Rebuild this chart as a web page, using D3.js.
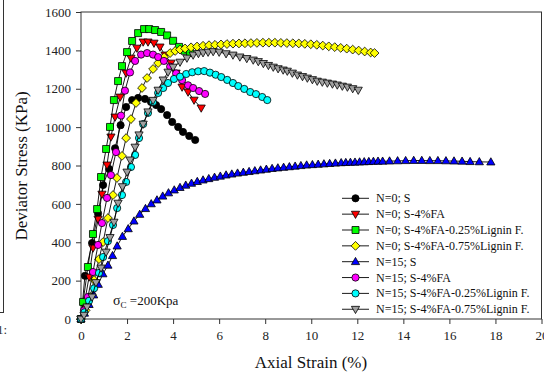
<!DOCTYPE html>
<html><head><meta charset="utf-8">
<script src="https://cdn.jsdelivr.net/npm/d3@7"></script>
<style>body{margin:0;background:#fff}svg{display:block}</style>
</head><body><svg id="c" width="544" height="377"></svg>
<script>
const xTicks=[0,2,4,6,8,10,12,14,16,18,20];
const yTicks=[0,200,400,600,800,1000,1200,1400,1600];
const seriesNames=["N=0; S","N=0; S-4%FA","N=0; S-4%FA-0.25%Lignin F.","N=0; S-4%FA-0.75%Lignin F.","N=15; S","N=15; S-4%FA","N=15; S-4%FA-0.25%Lignin F.","N=15; S-4%FA-0.75%Lignin F."];
const seriesColors=["#000000","#ff0000","#00ff00","#ffff00","#0000ff","#ff00ff","#00ffff","#a0a0a0"];
const seriesSymbols=["circle","triDown","square","diamond","triUp","circle","circle","triDown"];

const n0S=[[0,0],[0.17,225],[0.48,396],[0.74,550],[0.96,698],[1.22,782],[1.48,890],[1.72,1010],[1.96,1105],[2.22,1141],[2.48,1152],[2.78,1147],[3.04,1131],[3.26,1115],[3.48,1094],[3.74,1063],[3.96,1027],[4.22,1001],[4.43,975],[4.7,954],[4.96,933]];
const n0FA=[[0,0],[0.13,70],[0.35,219],[0.52,370],[0.74,521],[0.91,651],[1.13,803],[1.3,949],[1.48,1053],[1.7,1157],[1.96,1282],[2.17,1360],[2.43,1412],[2.7,1444],[2.91,1444],[3.17,1438],[3.43,1418],[3.65,1376],[3.91,1334],[4.13,1282],[4.39,1209],[4.65,1183],[4.91,1141],[5.22,1100]];
const n0L25=[[0,0],[0.09,89],[0.3,271],[0.52,443],[0.7,573],[0.87,740],[1.09,886],[1.26,1001],[1.43,1141],[1.61,1240],[1.78,1318],[2.0,1391],[2.22,1449],[2.48,1490],[2.74,1511],[2.96,1511],[3.22,1506],[3.48,1496],[3.74,1478],[4.0,1450],[4.26,1418],[4.5,1398],[4.74,1386]];
const n0L75=[[0,0],[0.2,45],[0.39,115],[0.57,203],[0.78,312],[0.96,401],[1.17,526],[1.39,646],[1.56,735],[1.78,850],[1.96,943],[2.17,1042],[2.39,1126],[2.65,1204],[2.87,1256],[3.13,1303],[3.35,1334],[3.61,1365],[3.87,1386],[4.09,1397],[4.3,1404],[4.52,1410],[4.78,1416],[5.04,1420],[5.3,1424],[5.56,1427],[5.82,1429],[6.08,1431],[6.34,1433],[6.6,1435],[6.86,1436],[7.12,1437],[7.38,1438],[7.64,1439],[7.9,1440],[8.16,1440],[8.42,1440],[8.68,1439],[8.94,1438],[9.2,1437],[9.46,1436],[9.72,1434],[9.98,1432],[10.24,1429],[10.5,1425],[10.76,1421],[11.02,1417],[11.28,1413],[11.54,1409],[11.8,1404],[12.06,1399],[12.32,1394],[12.58,1389],[12.75,1386]];
const n15S=[[0,0],[0.15,30],[0.35,75],[0.55,125],[0.75,180],[0.95,235],[1.17,280],[1.37,330],[1.57,380],[1.8,430],[2.05,470],[2.3,510],[2.55,545],[2.8,575],[3.05,600],[3.3,620],[3.55,640],[3.8,657],[4.05,672],[4.3,685],[4.55,697],[4.8,707],[5.05,716],[5.3,724],[5.55,731],[5.8,738],[6.05,744],[6.3,750],[6.55,755],[6.8,760],[7.05,764],[7.3,768],[7.55,772],[7.8,776],[8.05,780],[8.3,784],[8.55,787],[8.8,790],[9.05,793],[9.3,796],[9.55,799],[9.8,802],[10.05,804],[10.3,806],[10.55,808],[10.8,810],[11.05,812],[11.3,814],[11.5,815],[11.7,816],[11.9,817],[12.1,818],[12.3,819],[12.5,820],[12.7,821],[12.9,822],[13.1,822],[13.4,823],[13.75,824],[14.1,825],[14.45,826],[14.8,826],[15.15,825],[15.5,825],[15.85,824],[16.2,823],[16.55,822],[16.9,820],[17.3,819],[17.8,818]];
const n15FA=[[0,0],[0.13,45],[0.3,115],[0.52,245],[0.74,386],[0.91,500],[1.13,631],[1.3,750],[1.52,870],[1.74,1060],[1.91,1190],[2.13,1285],[2.35,1345],[2.61,1378],[2.87,1386],[3.13,1378],[3.35,1365],[3.6,1345],[3.87,1315],[4.13,1280],[4.39,1245],[4.65,1218],[4.87,1204],[5.13,1188],[5.39,1173]];
const n15L25=[[0,0],[0.15,35],[0.35,95],[0.57,160],[0.78,240],[0.96,323],[1.17,406],[1.39,490],[1.57,578],[1.78,646],[1.96,714],[2.17,792],[2.35,855],[2.52,943],[2.7,1016],[2.91,1074],[3.13,1131],[3.35,1178],[3.57,1204],[3.78,1230],[4.04,1251],[4.3,1263],[4.57,1277],[4.83,1286],[5.09,1291],[5.35,1292],[5.6,1284],[5.85,1273],[6.09,1261],[6.35,1246],[6.6,1230],[6.83,1214],[7.09,1199],[7.35,1183],[7.6,1172],[7.87,1157],[8.09,1141]];
const n15L75=[[0,0],[0.13,20],[0.26,63],[0.48,115],[0.65,190],[0.87,266],[1.09,349],[1.26,425],[1.43,505],[1.61,604],[1.8,690],[2.0,766],[2.13,829],[2.35,896],[2.52,960],[2.7,1016],[2.91,1080],[3.13,1140],[3.35,1193],[3.57,1246],[3.78,1287],[4.0,1313],[4.3,1339],[4.6,1360],[4.87,1376],[5.1,1384],[5.3,1388],[5.52,1391],[5.74,1394],[6.0,1391],[6.3,1383],[6.6,1376],[6.9,1366],[7.2,1358],[7.48,1350],[7.7,1342],[7.92,1332],[8.14,1322],[8.35,1313],[8.56,1305],[8.78,1298],[8.96,1292],[9.18,1282],[9.4,1272],[9.62,1264],[9.83,1256],[10.05,1248],[10.26,1240],[10.48,1235],[10.7,1230],[10.92,1225],[11.13,1220],[11.35,1214],[11.57,1209],[11.8,1201],[12.04,1193]];
const seriesData=[n0S,n0FA,n0L25,n0L75,n15S,n15FA,n15L25,n15L75];

const svg=d3.select("#c");
const x=d3.scaleLinear().domain([0,20]).range([81,541.5]);
const y=d3.scaleLinear().domain([0,1600]).range([319,12]);
const FONT="'Liberation Serif','Times New Roman',serif";
const AX="#333";

function symPath(t){
  if(t==="circle") return "M3.6,0A3.6,3.6 0 1,1 -3.6,0A3.6,3.6 0 1,1 3.6,0Z";
  if(t==="square") return "M-3.5,-3.5H3.5V3.5H-3.5Z";
  if(t==="diamond") return "M0,-4.4L4.4,0L0,4.4L-4.4,0Z";
  if(t==="triUp") return "M0,-4.3L4.1,2.9L-4.1,2.9Z";
  if(t==="triDown") return "M0,4.3L4.1,-2.9L-4.1,-2.9Z";
}

// left-side cropped artifact
svg.append("line").attr("x1",3.5).attr("x2",3.5).attr("y1",0).attr("y2",312).attr("stroke",AX).attr("stroke-width",1);
svg.append("line").attr("x1",0).attr("x2",4).attr("y1",312.5).attr("y2",312.5).attr("stroke",AX).attr("stroke-width",1);
svg.append("text").attr("x",-3).attr("y",334).attr("font-family",FONT).attr("font-size",13).attr("fill","#333").text("1:");

// frame
svg.append("rect").attr("x",81).attr("y",12).attr("width",460.5).attr("height",307).attr("fill","none").attr("stroke",AX).attr("stroke-width",1);

const xa=svg.append("g").attr("transform","translate(0,319)")
  .call(d3.axisBottom(x).tickValues(xTicks).tickSize(5).tickPadding(7).tickFormat(d3.format("d")));
const ya=svg.append("g").attr("transform","translate(81,0)")
  .call(d3.axisLeft(y).tickValues(yTicks).tickSize(5).tickPadding(5).tickFormat(d3.format("d")));
[xa,ya].forEach(g=>{g.select(".domain").remove();g.selectAll("line").attr("stroke",AX);
  g.selectAll("text").attr("font-family",FONT).attr("font-size",13).attr("fill","#222");});

// axis titles
svg.append("text").attr("x",311).attr("y",368).attr("text-anchor","middle").attr("font-family",FONT).attr("font-size",17).attr("fill","#111").text("Axial Strain (%)");
svg.append("text").attr("transform","translate(27,166) rotate(-90)").attr("text-anchor","middle").attr("font-family",FONT).attr("font-size",17).attr("fill","#111").text("Deviator Stress (KPa)");

// series
const line=d3.line().x(d=>x(d[0])).y(d=>y(d[1]));
const plot=svg.append("g");
seriesData.forEach((data,i)=>{
  plot.append("path").attr("d",line(data)).attr("fill","none").attr("stroke","#000").attr("stroke-width",0.9);
  plot.selectAll(null).data(data).enter().append("path")
    .attr("transform",d=>`translate(${x(d[0])},${y(d[1])})`)
    .attr("d",symPath(seriesSymbols[i])).attr("fill",seriesColors[i]).attr("stroke","#000").attr("stroke-width",0.8);
});

// legend
const lg=svg.append("g");
seriesNames.forEach((nm,i)=>{
  const yy=198.3+i*15.85;
  lg.append("line").attr("x1",342).attr("x2",369).attr("y1",yy).attr("y2",yy).attr("stroke","#000").attr("stroke-width",0.9);
  lg.append("path").attr("transform",`translate(355.5,${yy})`).attr("d",symPath(seriesSymbols[i])).attr("fill",seriesColors[i]).attr("stroke","#000").attr("stroke-width",0.8);
  lg.append("text").attr("x",376).attr("y",yy+4).attr("font-family",FONT).attr("font-size",12).attr("fill","#111").text(nm);
});

// sigma label
const st=svg.append("text").attr("x",113).attr("y",305).attr("font-family",FONT).attr("fill","#111");
st.append("tspan").attr("font-size",14).text("σ");
st.append("tspan").attr("font-size",9).attr("dy",3).text("C");
st.append("tspan").attr("font-size",13).attr("dy",-3).text(" =200Kpa");
</script></body></html>
